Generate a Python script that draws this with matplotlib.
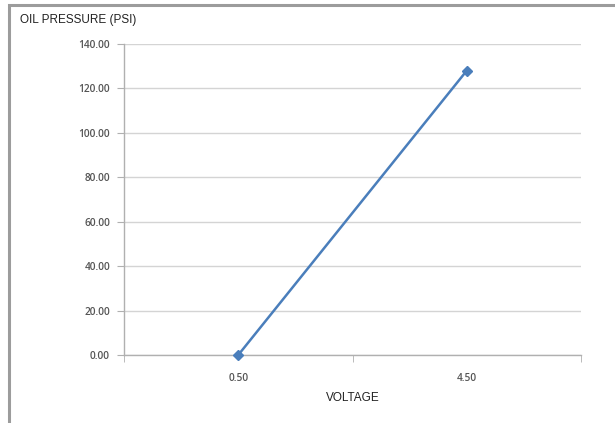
import matplotlib.pyplot as plt
from matplotlib.patches import Rectangle

VOLTAGE = ['0.50', '4.50']
PRESSURE = [0.0, 128.0]
Y_TICKS = [0, 20, 40, 60, 80, 100, 120, 140]

plt.rcParams['font.family'] = ['Liberation Sans', 'DejaVu Sans']

W, H = 615, 423
fig = plt.figure(figsize=(W / 100, H / 100), dpi=100)
fig.patch.set_facecolor('white')

# outer chart frame (only top and left edges visible)
fig.add_artist(Rectangle((8.5 / W, -0.1), 2, 1.1 - 5.5 / H,
                         transform=fig.transFigure, fill=False,
                         edgecolor='#9c9c9c', lw=2.2))

ax = fig.add_axes([124 / W, 1 - 355 / H, (581 - 124) / W, (355 - 44) / H])

x = range(len(VOLTAGE))
ax.plot(x, PRESSURE, color='#4a7ebb', lw=1.8, marker='D', markersize=5.5,
        zorder=3, clip_on=False)

ax.set_xlim(-0.5, len(VOLTAGE) - 0.5)
ax.set_ylim(0, 140)
ax.set_yticks(Y_TICKS)
ax.set_yticklabels([f'{v:.2f}' for v in Y_TICKS], family='Open Sans',
                   weight='semibold')
ax.set_xticks(list(x))
ax.set_xticklabels(VOLTAGE, family='Open Sans', weight='semibold')
ax.set_xticks([i - 0.5 for i in range(len(VOLTAGE) + 1)], minor=True)

ax.grid(axis='y', color='#d4d4d4', lw=1)
ax.set_axisbelow(True)
for s in ('top', 'right'):
    ax.spines[s].set_visible(False)
for s in ('left', 'bottom'):
    ax.spines[s].set_color('#b0b0b0')
    ax.spines[s].set_linewidth(1)

ax.tick_params(axis='y', length=5, color='#b0b0b0', labelsize=7.3,
               labelcolor='#555555', pad=5)
ax.tick_params(axis='x', which='major', length=0, labelsize=7.3,
               labelcolor='#555555', pad=13)
ax.tick_params(axis='x', which='minor', length=5, color='#b0b0b0')

ax.set_xlabel('VOLTAGE', fontsize=8.5, color='#222222', labelpad=6)
fig.text(20 / W, 1 - 20 / H, 'OIL PRESSURE (PSI)', fontsize=8.5,
         color='#222222', va='center', ha='left')

fig.savefig('out.png', dpi=100)
